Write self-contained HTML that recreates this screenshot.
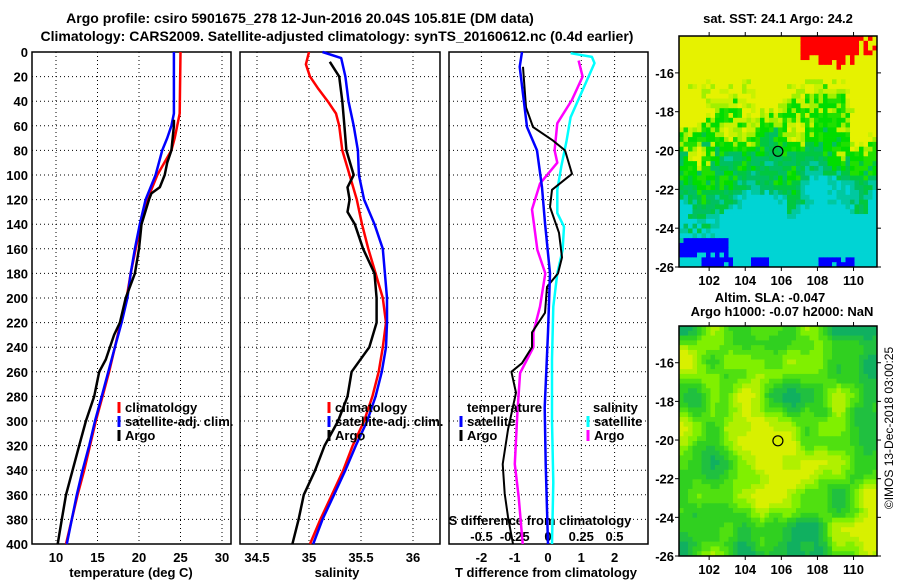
<!DOCTYPE html>
<html><head><meta charset="utf-8">
<style>
body{margin:0;background:#fff;}
svg{display:block;font-family:"Liberation Sans",sans-serif;font-weight:bold;}
text{font-size:13px;fill:#000;}
</style></head>
<body>
<svg id="fig" width="900" height="580" viewBox="0 0 900 580">
<rect width="900" height="580" fill="#fff"/>
<text x="300" y="23" text-anchor="middle" style="font-size:14px">Argo profile: csiro 5901675_278 12-Jun-2016 20.04S 105.81E (DM data)</text>
<text x="337" y="41" text-anchor="middle" style="font-size:14px">Climatology: CARS2009. Satellite-adjusted climatology: synTS_20160612.nc (0.4d earlier)</text>
<g id="g1"></g>
<g id="g2"></g>
<g id="g3"></g>
<g id="m1"></g>
<g id="m2"></g>
<text x="893" y="428" text-anchor="middle" transform="rotate(-90 893 428)" style="font-size:12px;font-weight:normal">©IMOS 13-Dec-2018 03:00:25</text>
</svg>
<script>
// ---------- data ----------
const depthTicks=[0,20,40,60,80,100,120,140,160,180,200,220,240,260,280,300,320,340,360,380,400];
const tempTicks=[10,15,20,25,30];
const salTicks=[34.5,35,35.5,36];
const dTTicks=[-2,-1,0,1,2];
const dSTicks=[-0.5,-0.25,0,0.25,0.5];
const dSTickLabels=["-0.5","-0.25","0","0.25","0.5"];
const lonTicks=[102,104,106,108,110];
const latTicks=[-16,-18,-20,-22,-24,-26];

const climDepth=[0,50,60,70,80,100,120,140,160,180,200,220,240,260,280,300,320,340,360,380,400];
const climTemp=[25.0,24.9,24.6,24.3,23.9,22.2,21.0,20.2,19.6,19.0,18.5,17.8,17.1,16.4,15.6,14.8,14.1,13.4,12.6,11.9,11.2];
const satTemp=[24.2,24.2,23.9,23.4,22.8,22.0,20.8,20.1,19.5,19.0,18.6,17.9,17.1,16.3,15.5,14.7,14.0,13.2,12.5,11.9,11.3];
const argoDepth=[55,60,80,90,100,110,115,120,140,160,180,200,220,230,250,260,280,300,320,340,360,380,400];
const argoTemp=[24.2,24.2,23.9,23.4,23.1,22.5,21.5,21.2,20.3,20.0,19.5,18.4,17.7,17.0,16.0,15.2,14.6,13.6,12.8,12.0,11.2,10.7,10.2];

const salDepth=[0,10,20,30,40,50,60,80,100,120,140,160,180,200,220,240,260,280,300,320,340,360,380,400];
const climSal=[35.0,34.97,35.01,35.09,35.18,35.26,35.29,35.32,35.39,35.46,35.51,35.57,35.64,35.71,35.74,35.71,35.67,35.61,35.53,35.42,35.33,35.22,35.11,35.01];
const satSalDepth=[0,5,20,40,60,80,100,120,140,160,180,200,220,240,260,280,300,320,340,360,380,400];
const satSal=[35.13,35.31,35.35,35.38,35.43,35.47,35.48,35.53,35.63,35.71,35.73,35.75,35.75,35.74,35.70,35.64,35.56,35.45,35.35,35.24,35.13,35.04];
const argoSalDepth=[8,20,40,60,80,100,110,120,130,140,160,180,200,220,240,260,280,300,320,340,360,380,400];
const argoSal=[35.2,35.29,35.32,35.34,35.36,35.43,35.37,35.39,35.37,35.44,35.52,35.63,35.65,35.65,35.58,35.41,35.37,35.28,35.15,35.06,34.95,34.90,34.84];

const dDepthSatT=[0,12,61,80,110,139,180,228,289,335,400];
const dSatT=[-0.78,-0.85,-0.63,-0.33,-0.18,-0.09,0.06,0.0,-0.1,-0.07,0.0];
const dDepthArgoT=[12,45,61,72,80,99,112,126,147,167,180,191,212,228,240,253,260,277,307,335,359,378,400];
const dArgoT=[-0.75,-0.66,-0.45,0.15,0.51,0.72,0.12,0.06,0.33,0.42,0.3,-0.03,-0.09,-0.48,-0.48,-0.78,-1.1,-0.96,-1.2,-1.36,-1.3,-1.2,-1.05];
const dDepthArgoS=[7,20,39,58,80,90,107,128,161,180,207,228,240,261,293,335,362,400];
const dArgoS=[0.23,0.26,0.18,0.07,0.05,0.07,-0.06,-0.12,-0.08,-0.02,-0.06,-0.11,-0.11,-0.21,-0.23,-0.25,-0.22,-0.19];
const dDepthSatS=[1,4,9,31,53,72,93,112,131,142,161,180,207,250,300,350,400];
const dSatS=[0.17,0.33,0.35,0.26,0.17,0.14,0.1,0.07,0.07,0.12,0.11,0.07,0.04,0.03,0.03,0.04,0.03];

// ---------- helpers ----------
const NS="http://www.w3.org/2000/svg";
function mk(tag,parent,attrs){const e=document.createElementNS(NS,tag);for(const k in attrs)e.setAttribute(k,attrs[k]);parent.appendChild(e);return e;}
const Y0=52,Y1=544;
const yD=d=>Y0+(d/400)*(Y1-Y0);

function panel(g,x0,x1,xs,ticks,labels,name){
  depthTicks.forEach(d=>{
    const l=mk('line',g,{x1:x0,x2:x1,y1:yD(d),y2:yD(d),stroke:'#000','stroke-width':1,'stroke-dasharray':'1,3'});
    
    
  });
  ticks.forEach((t,i)=>{
    const x=xs(t);
    const l=mk('line',g,{x1:x,x2:x,y1:Y0,y2:Y1,stroke:'#000','stroke-width':1,'stroke-dasharray':'1,3'});
    
    
  });
  const r=mk('rect',g,{x:x0,y:Y0,width:x1-x0,height:Y1-Y0,fill:'none',stroke:'#000','stroke-width':1.5});
  
  
}
function xLabels(g,xs,ticks,labels,y,name){
  ticks.forEach((t,i)=>{
    const tx=mk('text',g,{x:xs(t),y:y,'text-anchor':'middle'});
    tx.textContent=labels?labels[i]:String(t);
    
    
  });
}
function line(g,xs,vals,depths,color,name,w){
  const pts=vals.map((v,i)=>xs(v).toFixed(1)+','+yD(depths[i]).toFixed(1)).join(' ');
  const p=mk('polyline',g,{points:pts,fill:'none',stroke:color,'stroke-width':w||2.5,'stroke-linejoin':'round'});
  
  
}
function legend(g,x,y,color,label,name){
  const m=mk('line',g,{x1:x,x2:x,y1:y-10,y2:y+1,stroke:color,'stroke-width':3});
  
  
  const t=mk('text',g,{x:x+6,y:y});
  t.textContent=label;
  
  
}
function txt(g,x,y,s,anchor,name){
  const t=mk('text',g,{x:x,y:y,'text-anchor':anchor||'start'});
  t.textContent=s;
  
  
}

// ---------- panel 1 temperature ----------
const g1=document.getElementById('g1');
const xT=t=>56+(t-10)*8.3;
panel(g1,32,231,xT,tempTicks,null,'temp');
depthTicks.forEach(d=>txt(g1,28,yD(d)+5,String(d),'end','depth-tick-label'));
xLabels(g1,xT,tempTicks,null,562,'temp');
txt(g1,131,577,'temperature (deg C)','middle','temp-axis-title');
line(g1,xT,climTemp,climDepth,'#f00','temp-climatology-line');
line(g1,xT,satTemp,climDepth,'#00f','temp-satellite-line');
line(g1,xT,argoTemp,argoDepth,'#000','temp-argo-line');
legend(g1,119,412,'#f00','climatology','temp-legend-climatology');
legend(g1,119,426,'#00f','satellite-adj. clim.','temp-legend-satellite');
legend(g1,119,440,'#000','Argo','temp-legend-argo');

// ---------- panel 2 salinity ----------
const g2=document.getElementById('g2');
const xS=s=>309+(s-35)*104;
panel(g2,240,440,xS,salTicks,null,'sal');
xLabels(g2,xS,salTicks,null,562,'sal');
txt(g2,337,577,'salinity','middle','sal-axis-title');
line(g2,xS,climSal,salDepth,'#f00','sal-climatology-line');
line(g2,xS,satSal,satSalDepth,'#00f','sal-satellite-line');
line(g2,xS,argoSal,argoSalDepth,'#000','sal-argo-line');
legend(g2,329,412,'#f00','climatology','sal-legend-climatology');
legend(g2,329,426,'#00f','satellite-adj. clim.','sal-legend-satellite');
legend(g2,329,440,'#000','Argo','sal-legend-argo');

// ---------- panel 3 differences ----------
const g3=document.getElementById('g3');
const xdT=v=>548+v*33.3;
const xdS=v=>548+v*133;
panel(g3,449,648,xdT,dTTicks,null,'diff');
xLabels(g3,xdT,dTTicks,null,562,'dT');
xLabels(g3,xdS,dSTicks,dSTickLabels,541,'dS');
txt(g3,540,525,'S difference from climatology','middle','dS-axis-title');
txt(g3,546,577,'T difference from climatology','middle','dT-axis-title');
line(g3,xdS,dArgoS,dDepthArgoS,'#f0f','dS-argo-line');
line(g3,xdS,dSatS,dDepthSatS,'#0ff','dS-satellite-line');
line(g3,xdT,dArgoT,dDepthArgoT,'#000','dT-argo-line',2);
line(g3,xdT,dSatT,dDepthSatT,'#00f','dT-satellite-line');
txt(g3,467,412,'temperature','start','diff-legend-temperature-heading');
legend(g3,461,426,'#00f','satellite','diff-legend-temp-satellite');
legend(g3,461,440,'#000','Argo','diff-legend-temp-argo');
txt(g3,593,412,'salinity','start','diff-legend-salinity-heading');
legend(g3,588,426,'#0ff','satellite','diff-legend-sal-satellite');
legend(g3,588,440,'#f0f','Argo','diff-legend-sal-argo');

// ---------- maps ----------
function hash(i,j,s){let h=(i*374761393+j*668265263+s*1442695041)|0;h=(h^(h>>>13))*1274126177|0;h^=h>>>16;return ((h>>>0)%10000)/10000;}
function smooth(x,y,s){const i=Math.floor(x),j=Math.floor(y),fx=x-i,fy=y-j;
  const u=fx*fx*(3-2*fx),v=fy*fy*(3-2*fy);
  const a=hash(i,j,s),b=hash(i+1,j,s),c=hash(i,j+1,s),d=hash(i+1,j+1,s);
  return a+(b-a)*u+(c-a)*v+(a-b-c+d)*u*v;}
const LON0=100.33,LON1=111.3,LAT0=-14.1,LAT1=-26.0;
function mapFrame(g,mx0,my0,mx1,my1,name){
  const lx=lo=>mx0+(lo-LON0)/(LON1-LON0)*(mx1-mx0);
  const ly=la=>my0+(la-LAT0)/(LAT1-LAT0)*(my1-my0);
  return {lx,ly};
}
function drawAxes(g,mx0,my0,mx1,my1,lx,ly,name){
  const r=mk('rect',g,{x:mx0,y:my0,width:mx1-mx0,height:my1-my0,fill:'none',stroke:'#000','stroke-width':1.5});
  
  
  lonTicks.forEach(lo=>{
    mk('line',g,{x1:lx(lo),x2:lx(lo),y1:my0-4,y2:my0,stroke:'#000'});
    mk('line',g,{x1:lx(lo),x2:lx(lo),y1:my1,y2:my1+4,stroke:'#000'});
    txt(g,lx(lo),my1+18,String(lo),'middle',name+'-lon-tick-label');
  });
  latTicks.forEach(la=>{
    mk('line',g,{x1:mx0-4,x2:mx0,y1:ly(la),y2:ly(la),stroke:'#000'});
    mk('line',g,{x1:mx1,x2:mx1+4,y1:ly(la),y2:ly(la),stroke:'#000'});
    txt(g,mx0-5,ly(la)+5,String(la),'end',name+'-lat-tick-label');
  });
  const c=mk('circle',g,{cx:lx(105.81),cy:ly(-20.04),r:5,fill:'none',stroke:'#000','stroke-width':1.2});
  
  
}
// map 1 SST
(function(){
  const g=document.getElementById('m1');
  const mx0=679,my0=36,mx1=877,my1=267;
  const {lx,ly}=mapFrame(g,mx0,my0,mx1,my1,'sst');
  const cols=44,rows=48,cw=(mx1-mx0)/cols,ch=(my1-my0)/rows;
  let html='';
  for(let j=0;j<rows;j++)for(let i=0;i<cols;i++){
    const lat=LAT0+(j+0.5)/rows*(LAT1-LAT0), lon=LON0+(i+0.5)/cols*(LON1-LON0);
    let v=(-lat-14)/12;
    v+= (smooth(i/5,j/5,3)-0.5)*0.32 + (hash(i,j,7)-0.5)*0.14;
    if(lon>109.8 && lat>-21.5) v-=0.1;
    if(lon<101.5 && lat>-21) v-=0.06;
    let col;
    if(v<0.34) col='#e6f200';
    else if(v<0.42) col=hash(i,j,9)<0.5?'#c8f200':'#a0f000';
    else if(v<0.53) col=hash(i,j,11)<0.6?'#00dd00':'#20e000';
    else if(v<0.66) col=hash(i,j,12)<0.5?'#00c840':'#00c060';
    else if(v<0.72) col='#00c8a0';
    else col='#00d4d4';
    if(lon>107 && lat>-15.3+ (hash(i,j,5)-0.5)*0.8 - (lon-107)*0.05 && !(lon>110.2 && hash(i,j,6)<0.6)) col='#ff0000';
    if(lat<-24.4 && lon<103.3+(hash(i,j,14)-0.5) && hash(i,j,13)<0.9 && !(lat<-25.6 && lon<101.5)) col='#0000ff';
    if(lat<-25.4 && lon>104.2 && lon<105.2) col='#0000ff';
    if(lat<-25.5 && lon>108 && lon<110 && hash(i,j,15)<0.8) col='#0000ff';
    html+=`<rect x="${(mx0+i*cw).toFixed(2)}" y="${(my0+j*ch).toFixed(2)}" width="${(cw+0.4).toFixed(2)}" height="${(ch+0.4).toFixed(2)}" fill="${col}"/>`;
  }
  const cells=mk('g',g,{});
  
  
  cells.innerHTML=html;
  txt(g,778,23,'sat. SST: 24.1 Argo: 24.2','middle','sst-map-title');
  drawAxes(g,mx0,my0,mx1,my1,lx,ly,'sst-map');
})();
// map 2 SLA
(function(){
  const g=document.getElementById('m2');
  const mx0=679,my0=326,mx1=877,my1=556;
  const {lx,ly}=mapFrame(g,mx0,my0,mx1,my1,'sla');
  const cols=44,rows=48,cw=(mx1-mx0)/cols,ch=(my1-my0)/rows;
  const pal=['#10b060','#20c040','#30d020','#50e010','#80f000','#b0f000','#d8f000'];
  let html='';
  for(let j=0;j<rows;j++)for(let i=0;i<cols;i++){
    let v=smooth(i/7,j/7,21)*0.7+smooth(i/3.5,j/3.5,22)*0.3;
    let k=Math.max(0,Math.min(pal.length-1,Math.floor((v-0.15)/0.75*pal.length)));
    html+=`<rect x="${(mx0+i*cw).toFixed(2)}" y="${(my0+j*ch).toFixed(2)}" width="${(cw+0.4).toFixed(2)}" height="${(ch+0.4).toFixed(2)}" fill="${pal[k]}"/>`;
  }
  const cells=mk('g',g,{});
  
  
  cells.innerHTML=html;
  txt(g,770,302,'Altim. SLA: -0.047','middle','sla-map-title-1');
  txt(g,782,316,'Argo h1000: -0.07 h2000: NaN','middle','sla-map-title-2');
  drawAxes(g,mx0,my0,mx1,my1,lx,ly,'sla-map');
})();
</script>
</body></html>
